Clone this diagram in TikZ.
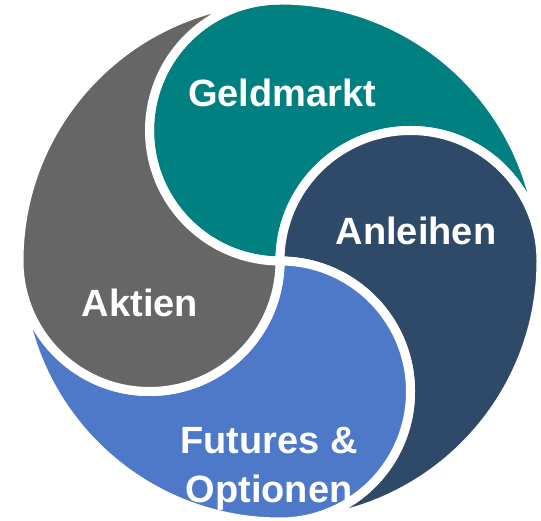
\documentclass[tikz,border=0pt]{standalone}
\usepackage{tikz}
\usepackage{fontspec}
\setmainfont{Liberation Sans}
\usetikzlibrary{calc}

\definecolor{geldcol}{HTML}{008080}
\definecolor{anleihencol}{HTML}{2E4A68}
\definecolor{futurescol}{HTML}{4E79C8}
\definecolor{aktiencol}{HTML}{666666}

\newcommand{\Rbig}{261}
\newcommand{\Rsmall}{130.5}

\tikzset{
    piece/.style={fill=#1, draw=white, line width=9pt, line join=round},
    label/.style={text=white, align=center, font=\bfseries\fontsize{38}{49}\selectfont}
}

\begin{document}
\begin{tikzpicture}[x=1pt, y=1pt]
        \useasboundingbox (0,0) rectangle (541,521);
        \coordinate (O) at (280,260);

        % Geldmarkt
        \path[piece=geldcol] ($(O)+(0,\Rbig)$)
            arc[start angle=90, end angle=0, radius=\Rbig]
            arc[start angle=0, end angle=180, radius=\Rsmall]
            arc[start angle=270, end angle=90, radius=\Rsmall] -- cycle;
        % Anleihen
        \path[piece=anleihencol] ($(O)+(\Rbig,0)$)
            arc[start angle=0, end angle=-90, radius=\Rbig]
            arc[start angle=-90, end angle=90, radius=\Rsmall]
            arc[start angle=180, end angle=0, radius=\Rsmall] -- cycle;
        % Futures & Optionen
        \path[piece=futurescol] ($(O)+(0,-\Rbig)$)
            arc[start angle=-90, end angle=-180, radius=\Rbig]
            arc[start angle=180, end angle=360, radius=\Rsmall]
            arc[start angle=90, end angle=-90, radius=\Rsmall] -- cycle;
        % Aktien
        \path[piece=aktiencol] ($(O)+(-\Rbig,0)$)
            arc[start angle=180, end angle=90, radius=\Rbig]
            arc[start angle=90, end angle=270, radius=\Rsmall]
            arc[start angle=0, end angle=-180, radius=\Rsmall] -- cycle;

        \node[label] (geldmarkt) at (282,428) {Geldmarkt};
        \node[label] (anleihen) at (416,290) {Anleihen};
        \node[label] (aktien) at (140,218) {Aktien};
        \node[label] (futures) at (269,52) {Futures \&\\Optionen};
    \end{tikzpicture}
\end{document}
